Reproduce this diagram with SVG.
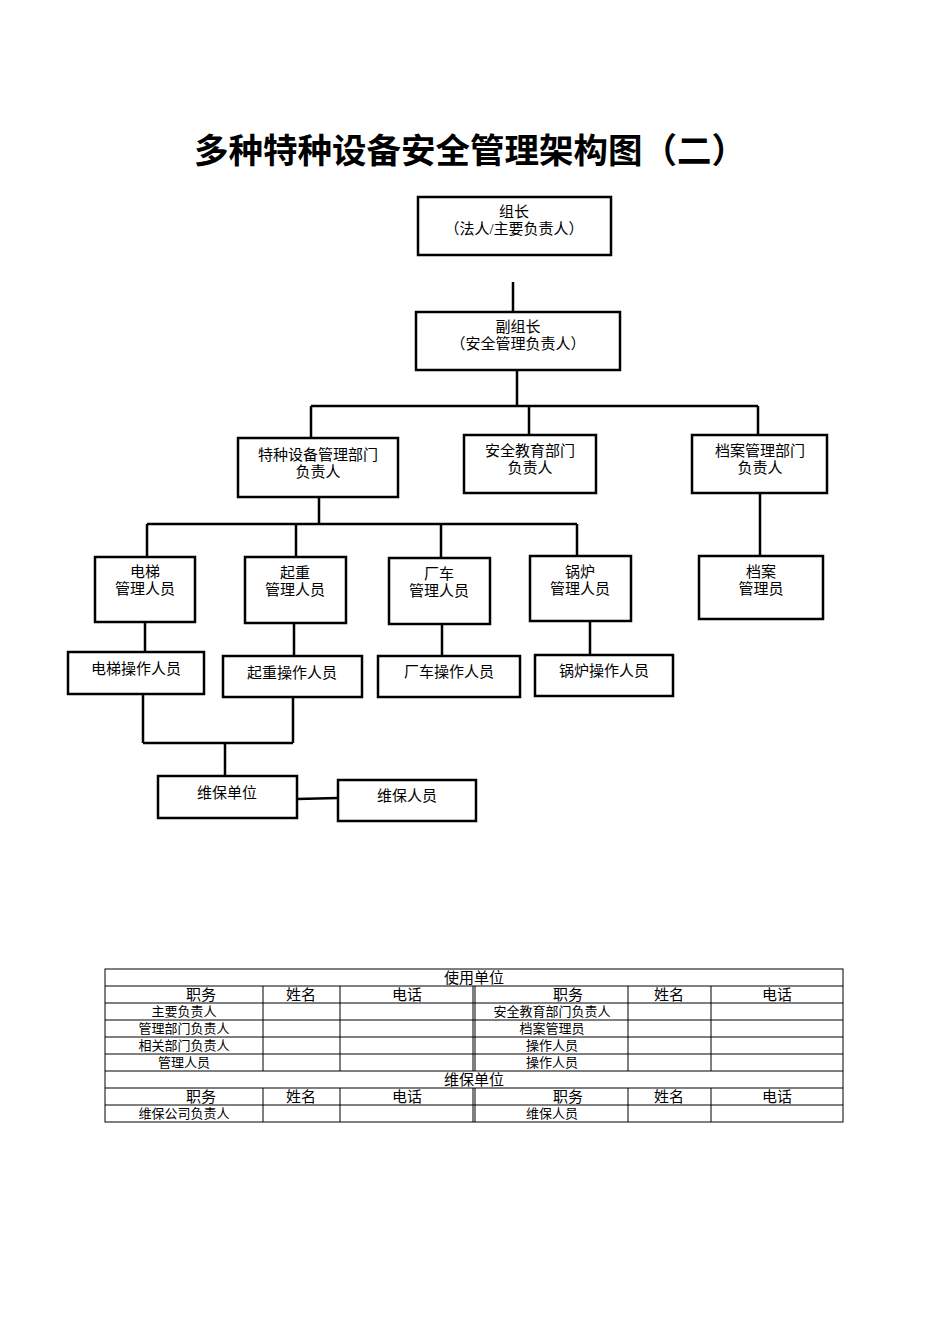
<svg xmlns="http://www.w3.org/2000/svg" width="950" height="1344" viewBox="0 0 950 1344">
<style>
.b{fill:#fff;stroke:#000;stroke-width:2.5}
.l{stroke:#000;stroke-width:2.5;fill:none}
text{font-family:"Liberation Serif","Noto Sans CJK SC",serif;font-size:15px;text-anchor:middle}
.t{font-family:"Noto Sans CJK SC",sans-serif;font-size:34.5px;font-weight:bold}
.g line{stroke:#000;stroke-width:1}
.g text{font-size:13px}
.g .h{font-size:15px}
</style>
<rect width="950" height="1344" fill="#fff"/>
<text class="t" x="470" y="163">多种特种设备安全管理架构图（二）</text>
<g id="connectors" class="l">
<path d="M513 282V312M517 370V406M311 406H758M311 406V438M529 406V435M758 406V435"/>
<path d="M319 497V524M147 524H577M147 524V557M296 524V557M441 524V558M577 524V556M760 493V556"/>
<path d="M145 622V652M294 623V656M442 624V656M590 621V655"/>
<path d="M143 694V743M293 697V743M143 743H293M225 743V776M297 799L338 798"/>
</g>
<g id="n1"><rect class="b" x="418" y="197" width="193" height="58"/><text x="514" y="217">组长</text><text x="514" y="234">（法人/主要负责人）</text></g>
<g id="n2"><rect class="b" x="416" y="312" width="204" height="58"/><text x="518" y="332">副组长</text><text x="518" y="349">（安全管理负责人）</text></g>
<g id="n3"><rect class="b" x="238" y="438" width="160" height="59"/><text x="318" y="460">特种设备管理部门</text><text x="318" y="477">负责人</text></g>
<g id="n4"><rect class="b" x="464" y="435" width="132" height="58"/><text x="530" y="456">安全教育部门</text><text x="530" y="473">负责人</text></g>
<g id="n5"><rect class="b" x="692" y="435" width="135" height="58"/><text x="760" y="456">档案管理部门</text><text x="760" y="473">负责人</text></g>
<g id="n6"><rect class="b" x="95" y="557" width="100" height="65"/><text x="145" y="577">电梯</text><text x="145" y="594">管理人员</text></g>
<g id="n7"><rect class="b" x="245" y="557" width="101" height="66"/><text x="295" y="578">起重</text><text x="295" y="595">管理人员</text></g>
<g id="n8"><rect class="b" x="389" y="558" width="101" height="66"/><text x="439" y="579">厂车</text><text x="439" y="596">管理人员</text></g>
<g id="n9"><rect class="b" x="530" y="556" width="101" height="65"/><text x="580" y="577">锅炉</text><text x="580" y="594">管理人员</text></g>
<g id="n10"><rect class="b" x="699" y="556" width="124" height="63"/><text x="761" y="577">档案</text><text x="761" y="594">管理员</text></g>
<g id="n11"><rect class="b" x="68" y="652" width="136" height="42"/><text x="136" y="674">电梯操作人员</text></g>
<g id="n12"><rect class="b" x="223" y="656" width="139" height="41"/><text x="292" y="678">起重操作人员</text></g>
<g id="n13"><rect class="b" x="378" y="656" width="142" height="41"/><text x="449" y="677">厂车操作人员</text></g>
<g id="n14"><rect class="b" x="535" y="655" width="138" height="41"/><text x="604" y="676">锅炉操作人员</text></g>
<g id="n15"><rect class="b" x="158" y="776" width="139" height="42"/><text x="227" y="798">维保单位</text></g>
<g id="n16"><rect class="b" x="338" y="780" width="138" height="41"/><text x="407" y="801">维保人员</text></g>
<g id="table" class="g">
<rect x="105" y="969" width="738" height="153" fill="none" stroke="#000" stroke-width="1"/>
<line x1="105" y1="986" x2="843" y2="986"/><line x1="105" y1="1003" x2="843" y2="1003"/>
<line x1="105" y1="1020" x2="843" y2="1020"/><line x1="105" y1="1037" x2="843" y2="1037"/>
<line x1="105" y1="1054" x2="843" y2="1054"/><line x1="105" y1="1071" x2="843" y2="1071"/>
<line x1="105" y1="1088" x2="843" y2="1088"/><line x1="105" y1="1105" x2="843" y2="1105"/>
<line x1="263" y1="986" x2="263" y2="1071"/><line x1="340" y1="986" x2="340" y2="1071"/>
<line x1="473" y1="986" x2="473" y2="1071"/><line x1="475" y1="986" x2="475" y2="1071"/>
<line x1="628" y1="986" x2="628" y2="1071"/><line x1="711" y1="986" x2="711" y2="1071"/>
<line x1="263" y1="1088" x2="263" y2="1122"/><line x1="340" y1="1088" x2="340" y2="1122"/>
<line x1="473" y1="1088" x2="473" y2="1122"/><line x1="475" y1="1088" x2="475" y2="1122"/>
<line x1="628" y1="1088" x2="628" y2="1122"/><line x1="711" y1="1088" x2="711" y2="1122"/>
<text class="h" x="474" y="983">使用单位</text>
<text class="h" x="201" y="1000">职务</text><text class="h" x="301" y="1000">姓名</text><text class="h" x="407" y="1000">电话</text>
<text class="h" x="568" y="1000">职务</text><text class="h" x="669" y="1000">姓名</text><text class="h" x="777" y="1000">电话</text>
<text x="184" y="1016">主要负责人</text><text x="552" y="1016">安全教育部门负责人</text>
<text x="184" y="1033">管理部门负责人</text><text x="552" y="1033">档案管理员</text>
<text x="184" y="1050">相关部门负责人</text><text x="552" y="1050">操作人员</text>
<text x="184" y="1067">管理人员</text><text x="552" y="1067">操作人员</text>
<text class="h" x="474" y="1085">维保单位</text>
<text class="h" x="201" y="1102">职务</text><text class="h" x="301" y="1102">姓名</text><text class="h" x="407" y="1102">电话</text>
<text class="h" x="568" y="1102">职务</text><text class="h" x="669" y="1102">姓名</text><text class="h" x="777" y="1102">电话</text>
<text x="184" y="1118">维保公司负责人</text><text x="552" y="1118">维保人员</text>
</g>
</svg>
